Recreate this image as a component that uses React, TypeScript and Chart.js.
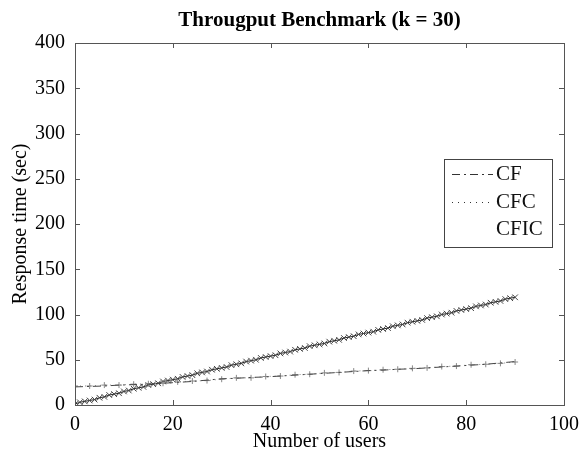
import React, { useEffect, useRef } from "react";
import { Chart, registerables } from "chart.js";

Chart.register(...registerables);

const TITLE = "Througput Benchmark (k = 30)";
const X_LABEL = "Number of users";
const Y_LABEL = "Response time (sec)";
const SERIES_NAMES = ["CF", "CFC", "CFIC"];

const X_TICKS = [0, 20, 40, 60, 80, 100];
const Y_TICKS = [0, 50, 100, 150, 200, 250, 300, 350, 400];

const lowUsers = [0, 3, 6, 9, 12, 15, 18, 21, 24, 27, 30, 33, 36, 39, 42, 45, 48, 51, 54, 57, 60, 63, 66, 69, 72, 75, 78, 81, 84, 87, 90];
const cfValues = [20, 20.5, 21, 22, 22.5, 23, 24, 25, 26, 27.5, 29, 29.5, 30.5, 31, 32, 33, 34, 35, 36, 37, 38, 38.5, 39.5, 40, 41, 42, 43, 44, 45, 46.5, 48];
const cfcValues = [21, 21, 22, 22, 23, 23.5, 24, 25.5, 26.5, 27, 28.5, 30, 30, 31.5, 32, 33.5, 34, 35.5, 36, 37.5, 38, 39, 39.5, 40.5, 41, 42.5, 43, 44.5, 45, 46, 47.5];

const cficUsers = [
  0, 1, 2, 3, 4, 5, 6, 7, 8, 9, 10, 11, 12, 13, 14, 15, 16, 17, 18, 19, 20,
  21, 22, 23, 24, 25, 26, 27, 28, 29, 30, 31, 32, 33, 34, 35, 36, 37, 38, 39, 40,
  41, 42, 43, 44, 45, 46, 47, 48, 49, 50, 51, 52, 53, 54, 55, 56, 57, 58, 59, 60,
  61, 62, 63, 64, 65, 66, 67, 68, 69, 70, 71, 72, 73, 74, 75, 76, 77, 78, 79, 80,
  81, 82, 83, 84, 85, 86, 87, 88, 89, 90,
];
const cficValues = [
  1, 3, 4, 5, 6, 8, 9, 11, 12, 13, 15, 16, 18, 19, 20, 22, 23, 24, 26, 27, 28,
  29, 31, 32, 33, 35, 36, 37, 39, 40, 41, 42, 44, 45, 46, 48, 49, 50, 52, 53, 54,
  55, 57, 58, 59, 61, 62, 63, 65, 66, 67, 68, 70, 71, 72, 74, 75, 76, 78, 79, 80,
  81, 83, 84, 85, 87, 88, 89, 91, 92, 93, 94, 96, 97, 98, 100, 101, 102, 104, 105, 106,
  107, 109, 110, 111, 113, 114, 115, 117, 118, 119,
];

const FONT = "'Liberation Serif', 'Times New Roman', serif";

const boxPlugin = {
  id: "matlabBox",
  afterDraw(chart: any) {
    const { ctx, chartArea: a, scales } = chart;
    ctx.save();
    // title centred over the axes
    ctx.fillStyle = "#000";
    ctx.font = `bold 21px ${FONT}`;
    ctx.textAlign = "center";
    ctx.textBaseline = "middle";
    ctx.fillText(TITLE, (a.left + a.right) / 2, 21);
    ctx.textAlign = "left";

    ctx.strokeStyle = "#555";
    ctx.lineWidth = 1;
    ctx.strokeRect(a.left + 0.5, a.top + 0.5, a.right - a.left, a.bottom - a.top);
    ctx.beginPath();
    X_TICKS.forEach((t) => {
      const x = Math.round(scales.x.getPixelForValue(t)) + 0.5;
      ctx.moveTo(x, a.bottom);
      ctx.lineTo(x, a.bottom - 5);
      ctx.moveTo(x, a.top);
      ctx.lineTo(x, a.top + 5);
    });
    Y_TICKS.forEach((t) => {
      const y = Math.round(scales.y.getPixelForValue(t)) + 0.5;
      ctx.moveTo(a.left, y);
      ctx.lineTo(a.left + 5, y);
      ctx.moveTo(a.right, y);
      ctx.lineTo(a.right - 5, y);
    });
    ctx.stroke();

    // legend
    const lx = 444, ly = 159, lw = 108, lh = 88;
    ctx.fillStyle = "#fff";
    ctx.fillRect(lx, ly, lw, lh);
    ctx.strokeStyle = "#444";
    ctx.strokeRect(lx + 0.5, ly + 0.5, lw, lh);
    const rows = [174, 202, 229];
    const dashes = [[8, 4, 2, 4], [1, 5], []];
    ctx.font = `21px ${FONT}`;
    ctx.textBaseline = "middle";
    rows.forEach((y, i) => {
      ctx.strokeStyle = "#333";
      ctx.setLineDash(dashes[i]);
      if (i < 2) {
        ctx.beginPath();
        ctx.moveTo(452, y + 0.5);
        ctx.lineTo(493, y + 0.5);
        ctx.stroke();
      }
      ctx.setLineDash([]);
      ctx.fillStyle = "#111";
      ctx.fillText(SERIES_NAMES[i], 496, y);
    });
    ctx.restore();
  },
};

export default function App() {
  const ref = useRef<HTMLCanvasElement>(null);
  useEffect(() => {
    document.body.style.margin = "0";
    const chart = new Chart(ref.current!, {
      type: "scatter",
      data: {
        datasets: [
          {
            label: SERIES_NAMES[0],
            data: lowUsers.map((x, i) => ({ x, y: cfValues[i] })),
            showLine: true,
            borderColor: "#444",
            borderWidth: 1,
            borderDash: [8, 4, 2, 4],
            pointRadius: 0,
          },
          {
            label: SERIES_NAMES[1],
            data: lowUsers.map((x, i) => ({ x, y: cfcValues[i] })),
            showLine: true,
            borderColor: "#888",
            borderWidth: 1,
            borderDash: [1, 4],
            pointStyle: "cross",
            pointRadius: 3,
            pointBorderColor: "#888",
            pointBorderWidth: 1,
          },
          {
            label: SERIES_NAMES[2],
            data: cficUsers.map((x, i) => ({ x, y: cficValues[i] })),
            showLine: true,
            borderColor: "#222",
            borderWidth: 1,
            pointStyle: "crossRot",
            pointRadius: 4,
            pointBorderColor: "#444",
            pointBorderWidth: 1,
          },
        ],
      },
      options: {
        animation: false,
        responsive: false,
        layout: { padding: { left: 9, right: 19, top: 43, bottom: 0 } },
        plugins: {
          legend: { display: false },
          tooltip: { enabled: false },
          title: { display: false },
        },
        scales: {
          x: {
            type: "linear",
            min: 0,
            max: 100,
            grid: { display: false },
            border: { display: false },
            afterBuildTicks: (s: any) => {
              s.ticks = X_TICKS.map((v) => ({ value: v }));
            },
            afterFit: (s: any) => {
              s.height = 49;
            },
            ticks: {
              color: "#000",
              font: { family: FONT, size: 20 },
              padding: 0,
              maxRotation: 0,
            },
            title: {
              display: true,
              text: X_LABEL,
              color: "#000",
              font: { family: FONT, size: 20 },
              padding: { top: 0, bottom: 0 },
            },
          },
          y: {
            type: "linear",
            min: 0,
            max: 400,
            grid: { display: false },
            border: { display: false },
            afterBuildTicks: (s: any) => {
              s.ticks = Y_TICKS.map((v) => ({ value: v }));
            },
            afterFit: (s: any) => {
              s.width = 66;
            },
            ticks: {
              color: "#000",
              font: { family: FONT, size: 20 },
              padding: 2,
            },
            title: {
              display: true,
              text: Y_LABEL,
              color: "#000",
              font: { family: FONT, size: 20 },
              padding: { top: 0, bottom: 0 },
            },
          },
        },
      },
      plugins: [boxPlugin],
    });
    return () => chart.destroy();
  }, []);
  return (
    <div style={{ width: 583, height: 454, background: "#fff" }}>
      <canvas ref={ref} width={583} height={454} />
    </div>
  );
}
